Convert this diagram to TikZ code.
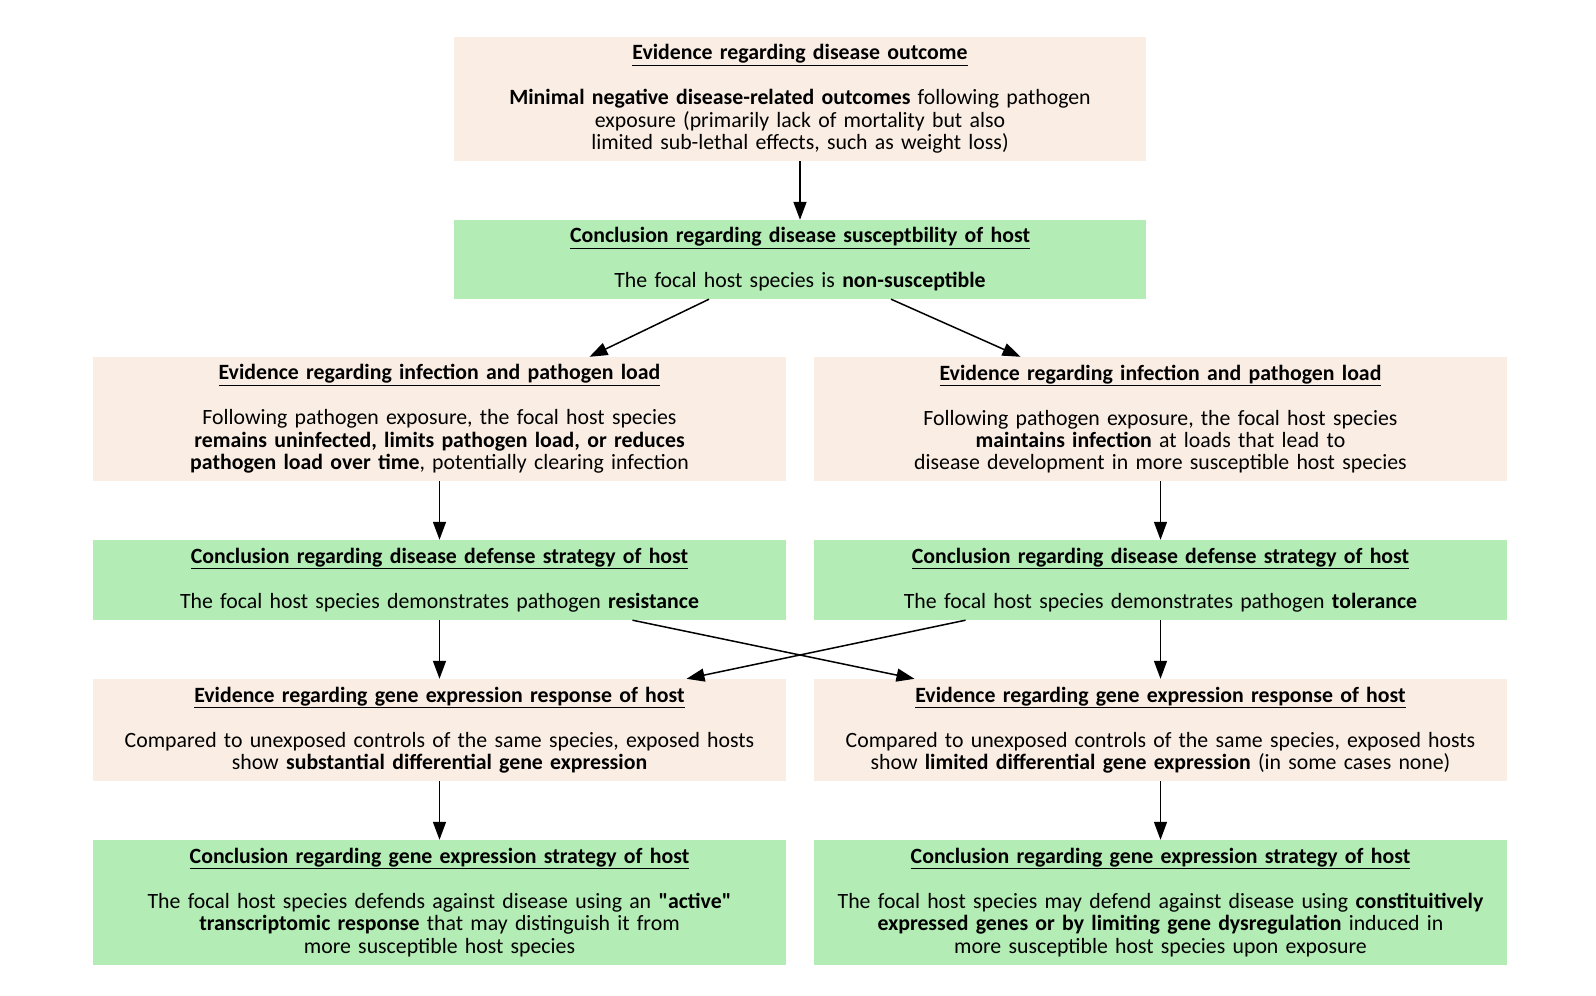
\documentclass[tikz,border=0pt]{standalone}
\usepackage{fontspec}
\setmainfont{Carlito}[Ligatures=TeXOff]
\usetikzlibrary{arrows.meta}
\definecolor{evid}{HTML}{FAEEE4}
\definecolor{concl}{HTML}{B3ECB5}
\newcommand{\ttl}[1]{\underline{\textbf{#1}}\\[22.6pt]}
\begin{document}
\begin{tikzpicture}[x=1pt,y=-1pt,
  box/.style={rectangle, inner sep=0pt, align=center, text width=690pt,
    font=\fontsize{21.8}{22.4}\selectfont},
  evbox/.style={box, fill=evid},
  cobox/.style={box, fill=concl},
  arr/.style={line width=1.5pt, -{Triangle[length=18pt,width=13pt]}}]
\useasboundingbox (0,0) rectangle (1596,996);
\node[evbox, minimum width=692pt, minimum height=124pt] (n1) at (800,99)
  {\ttl{Evidence regarding disease outcome}\textbf{Minimal negative disease-related outcomes} following pathogen\\exposure (primarily lack of mortality but also\\limited sub-lethal effects, such as weight loss)};
\node[cobox, minimum width=692pt, minimum height=79pt] (n2) at (800,259.5)
  {\ttl{Conclusion regarding disease susceptbility of host}The focal host species is \textbf{non-susceptible}};
\node[evbox, minimum width=693pt, minimum height=124pt] (n3L) at (439.5,419)
  {\ttl{Evidence regarding infection and pathogen load}Following pathogen exposure, the focal host species\\\textbf{remains uninfected, limits pathogen load, or reduces}\\\textbf{pathogen load over time}, potentially clearing infection};
\node[evbox, minimum width=693pt, minimum height=124pt] (n3R) at (1160.5,419)
  {\ttl{Evidence regarding infection and pathogen load}Following pathogen exposure, the focal host species\\\textbf{maintains infection} at loads that lead to\\disease development in more susceptible host species};
\node[cobox, minimum width=693pt, minimum height=80pt] (n4L) at (439.5,580)
  {\ttl{Conclusion regarding disease defense strategy of host}The focal host species demonstrates pathogen \textbf{resistance}};
\node[cobox, minimum width=693pt, minimum height=80pt] (n4R) at (1160.5,580)
  {\ttl{Conclusion regarding disease defense strategy of host}The focal host species demonstrates pathogen \textbf{tolerance}};
\node[evbox, minimum width=693pt, minimum height=102pt] (n5L) at (439.5,730)
  {\ttl{Evidence regarding gene expression response of host}Compared to unexposed controls of the same species, exposed hosts\\show \textbf{substantial differential gene expression}};
\node[evbox, minimum width=693pt, minimum height=102pt] (n5R) at (1160.5,730)
  {\ttl{Evidence regarding gene expression response of host}Compared to unexposed controls of the same species, exposed hosts\\show \textbf{limited differential gene expression} (in some cases none)};
\node[cobox, minimum width=693pt, minimum height=125pt] (n6L) at (439.5,902.5)
  {\ttl{Conclusion regarding gene expression strategy of host}The focal host species defends against disease using an \textbf{"active"}\\\textbf{transcriptomic response} that may distinguish it from\\more susceptible host species};
\node[cobox, minimum width=693pt, minimum height=125pt] (n6R) at (1160.5,902.5)
  {\ttl{Conclusion regarding gene expression strategy of host}The focal host species may defend against disease using \textbf{constituitively}\\\textbf{expressed genes or by limiting gene dysregulation} induced in\\more susceptible host species upon exposure};
\draw[arr] (n1.south) -- (n2.north);
\draw[arr] ([xshift=-91pt]n2.south) -- ([xshift=150pt]n3L.north);
\draw[arr] ([xshift=91pt]n2.south) -- ([xshift=-140pt]n3R.north);
\draw[arr] (n3L.south) -- (n4L.north);
\draw[arr] (n3R.south) -- (n4R.north);
\draw[arr] (n4L.south) -- (n5L.north);
\draw[arr] (n4R.south) -- (n5R.north);
\draw[arr] ([xshift=193pt]n4L.south) -- ([xshift=-246pt]n5R.north);
\draw[arr] ([xshift=-195pt]n4R.south) -- ([xshift=247pt]n5L.north);
\draw[arr] (n5L.south) -- (n6L.north);
\draw[arr] (n5R.south) -- (n6R.north);
\end{tikzpicture}
\end{document}
